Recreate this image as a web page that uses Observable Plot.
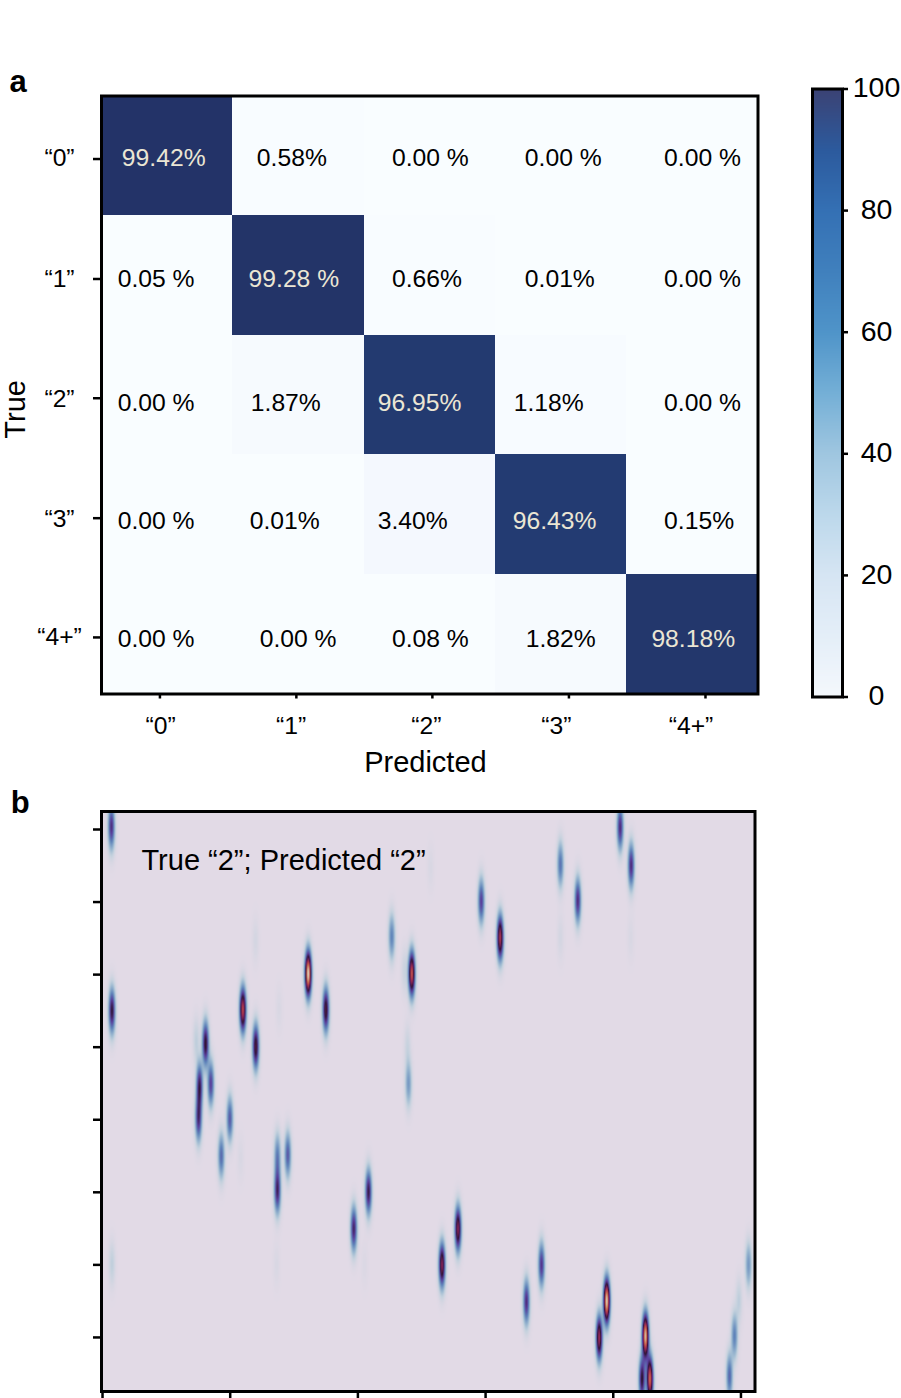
<!DOCTYPE html>
<html>
<head>
<meta charset="utf-8">
<script src="https://cdn.jsdelivr.net/npm/d3@7"></script>
<script src="https://cdn.jsdelivr.net/npm/@observablehq/plot@0.6"></script>
<style>
html,body{margin:0;padding:0;background:#fff;}
#stage{position:relative;width:901px;height:1398px;overflow:hidden;font-family:"Liberation Sans",Arial,sans-serif;}
#stage svg{position:absolute;overflow:visible;background:transparent;}
</style>
</head>
<body>
<div id="stage"></div>
<script>
// ---------- Panel a: confusion matrix ----------
const classLabels = ["“0”", "“1”", "“2”", "“3”", "“4+”"];
const rowText = [
  ["99.42%", "0.58%", "0.00 %", "0.00 %", "0.00 %"],
  ["0.05 %", "99.28 %", "0.66%", "0.01%", "0.00 %"],
  ["0.00 %", "1.87%", "96.95%", "1.18%", "0.00 %"],
  ["0.00 %", "0.01%", "3.40%", "96.43%", "0.15%"],
  ["0.00 %", "0.00 %", "0.08 %", "1.82%", "98.18%"]
];
// left edge of each printed number, in column units
const rowTextX = [
  [0.155, 1.183, 2.212, 3.224, 4.285],
  [0.123, 1.12, 2.212, 3.224, 4.285],
  [0.123, 1.137, 2.104, 3.14, 4.285],
  [0.123, 1.129, 2.104, 3.132, 4.285],
  [0.123, 1.205, 2.212, 3.231, 4.188]
];
const rowTextY = [0.523, 1.535, 2.565, 3.552, 4.54];
const xTickAt = [0.445, 1.484, 2.52, 3.56, 4.6];
const yTickAt = [0.527, 1.53, 2.527, 3.53, 4.527];
const xLabelAt = [0.451, 1.444, 2.474, 3.464, 4.49];
const yLabelAt = [0.523, 1.535, 2.534, 3.534, 4.524];

const cellStopsAt  = [0, 3.4, 20, 50, 80, 96.4, 100];
const cellStops    = ["#f9fdff", "#f4f8fe", "#d6e5f3", "#74afd6", "#3470b4", "#233b72", "#233266"];

// ---------- Colour bar ----------
const barTicks = [0, 20, 40, 60, 80, 100];
const barStopsAt = [0, 10, 20, 30, 40, 50, 60, 70, 80, 90, 100];
const barStops = ["#f4f8fc", "#e4eef8", "#d6e5f3", "#bcd8eb", "#9fc6e0", "#74afd6", "#4f94c9", "#4080bd", "#3470b4", "#2c5a9d", "#3b4274"];

// ---------- Panel b: streaks ----------
// position in tick units, strength on the colour map (0..1)
const streakX = [
  0.07, 0.074, 1.099, 1.2, 1.611, 1.749, 0.807, 0.734, 0.848, 0.76, 0.752, 0.997, 0.93, 1.37, 1.37, 1.451,
  4.054, 4.14, 3.586, 3.722, 2.966, 3.114, 2.265, 2.422, 2.365, 3.586, 2.569, 2.396, 2.388,
  1.968, 2.083, 2.659, 2.784, 3.32, 3.438, 3.949, 3.89, 4.252, 4.225, 4.287,
  4.91, 4.949, 4.984, 5.059, 0.074,
  1.198, 1.383, 1.081, 4.135, 1.363, 2.052
];
const streakY = [
  -0.04, 2.497, 2.483, 2.993, 1.986, 2.483, 2.952, 2.91, 3.503, 3.531, 3.986, 3.986, 4.497, 4.497, 4.979, 4.483,
  -0.028, 0.497, 0.483, 0.979, 0.989, 1.49, 1.476, 1.986, 1.945, 1.49, 0.524, 3.503, 2.979,
  5.503, 4.993, 6.0, 5.503, 6.51, 6.0, 6.497, 7.003, 6.979, 7.572, 7.572,
  7.531, 6.979, 6.497, 6.0, 5.986,
  1.531, 2.469, 4.524, 1.49, 6.0, 6.0
];
const streakAmp = [
  0.42, 0.5, 0.72, 0.55, 0.95, 0.55, 0.52, 0.07, 0.38, 0.46, 0.42, 0.33, 0.3, 0.25, 0.45, 0.33,
  0.42, 0.42, 0.28, 0.42, 0.38, 0.68, 0.25, 0.75, 0.05, 0.03, 0.02, 0.2, 0.05,
  0.45, 0.48, 0.62, 0.62, 0.42, 0.4, 0.93, 0.65, 0.9, 0.5, 0.78,
  0.3, 0.25, 0.07, 0.2, 0.07,
  0.03, 0.02, 0.02, 0.02, 0.02, 0.015
];
const twilightAt = [0, 0.06, 0.12, 0.25, 0.38, 0.5, 0.6, 0.7, 0.8, 0.9, 1];
const twilight = ["#e2dae6", "#c6d2de", "#9fbbd2", "#5f84ba", "#5a3d9b", "#2f1436", "#7a1f55", "#b23a4a", "#c8724f", "#d6b49c", "#eee6dc"];

const F = 24.7;     // number labels
const FT = 29;      // titles
const ink = "#000";
const baseStyle = {fontFamily: '"Liberation Sans", Arial, sans-serif', background: "transparent", overflow: "visible"};
const stage = document.getElementById("stage");
function place(svg, left, top) {
  svg.style.left = left + "px";
  svg.style.top = top + "px";
  stage.appendChild(svg);
}

// Panel a
const cells = rowText.flatMap((r, i) => r.map((t, j) => ({
  row: i, col: j, text: t, value: parseFloat(t), lx: rowTextX[i][j], ly: rowTextY[i]
})));
const panelA = Plot.plot({
  width: 790, height: 790,
  marginLeft: 101, marginRight: 790 - 757.5, marginTop: 95.5, marginBottom: 790 - 693.5,
  style: baseStyle,
  x: {domain: [0, 5], axis: null},
  y: {domain: [0, 5], reverse: true, axis: null},
  color: {type: "linear", domain: cellStopsAt, range: cellStops},
  marks: [
    Plot.rect(cells, {x1: d => d.col, x2: d => d.col + 1, y1: d => d.row, y2: d => d.row + 1, fill: d => d.value, inset: 0, shapeRendering: "crispEdges"}),
    Plot.text(cells, {x: "lx", y: "ly", text: "text", textAnchor: "start", fontSize: F,
      fill: d => d.value > 50 ? "#ebe6d4" : ink}),
    Plot.frame({stroke: ink, strokeWidth: 3}),
    Plot.axisX({anchor: "bottom", ticks: xTickAt, tickSize: 5, tickFormat: () => "", strokeWidth: 2.5, stroke: ink, label: null}),
    Plot.axisX({anchor: "bottom", ticks: xLabelAt, tickSize: 0, tickPadding: 22, fontSize: F, fill: ink, label: null,
      tickFormat: d => classLabels[xLabelAt.indexOf(d)]}),
    Plot.axisY({anchor: "left", ticks: yTickAt, tickSize: 8, tickFormat: () => "", strokeWidth: 2.5, stroke: ink, label: null}),
    Plot.axisY({anchor: "left", ticks: yLabelAt, tickSize: 0, tickPadding: 42, textAnchor: "middle", fontSize: F, fill: ink, label: null,
      tickFormat: d => classLabels[yLabelAt.indexOf(d)]}),
    Plot.text(["Predicted"], {x: 2.467, y: 5.575, fontSize: FT, fill: ink}),
    Plot.text(["True"], {x: -0.655, y: 2.62, rotate: -90, fontSize: FT, fill: ink}),
    Plot.text(["a"], {x: -0.635, y: -0.117, fontSize: 31, fontWeight: "bold", fill: ink})
  ]
});
place(panelA, 0, 0);

// Colour bar
const colourBar = Plot.plot({
  width: 101, height: 640,
  marginLeft: 12, marginRight: 101 - 38 - 4, marginTop: 18.5, marginBottom: 640 - 626.5,
  style: baseStyle,
  x: {domain: [0, 1], axis: null},
  y: {domain: [0, 100], axis: null},
  color: {type: "linear", domain: barStopsAt, range: barStops},
  marks: [
    Plot.raster({fill: (x, y) => y, x1: 0, x2: 1, y1: 0, y2: 100, pixelSize: 1}),
    Plot.frame({stroke: ink, strokeWidth: 3}),
    Plot.axisY({anchor: "right", ticks: barTicks, tickSize: 5, tickFormat: () => "", strokeWidth: 2.5, stroke: ink, label: null}),
    Plot.axisY({anchor: "right", ticks: barTicks, tickSize: 0, tickPadding: 34, dy: -0.8, textAnchor: "middle", fontSize: 28.5, fill: ink,
      label: null, tickFormat: d => String(d)})
  ]
});
place(colourBar, 800, 70);

// Panel b
const streaks = streakX.map((x, i) => ({x, y: streakY[i], a: streakAmp[i]}));
const sx = 2.2 / 127.7, sy = 15 / 72.5;
function field(x, y) {
  let v = 0;
  for (const s of streaks) {
    const dx = (x - s.x) / sx, dy = (y - s.y) / sy;
    if (Math.abs(dx) > 6 || Math.abs(dy) > 6) continue;
    v += s.a * Math.exp(-0.5 * (dx * dx + dy * dy));
  }
  return Math.min(v, 1);
}
const panelBTop = 785;
const panelB = Plot.plot({
  width: 790, height: 613,
  marginLeft: 101, marginRight: 790 - 754.5, marginTop: 811 - panelBTop, marginBottom: 1398 - 1391,
  style: baseStyle,
  x: {domain: [-0.008, 5.11], axis: null},
  y: {domain: [-0.248, 7.745], reverse: true, axis: null},
  color: {type: "linear", domain: twilightAt, range: twilight},
  marks: [
    Plot.raster({fill: field, x1: -0.008, x2: 5.11, y1: -0.248, y2: 7.745, pixelSize: 1}),
    Plot.frame({stroke: ink, strokeWidth: 3}),
    Plot.axisX({anchor: "bottom", ticks: [0, 1, 2, 3, 4, 5], tickSize: 7, tickFormat: () => "", strokeWidth: 2.5, stroke: ink, label: null}),
    Plot.axisY({anchor: "left", ticks: [0, 1, 2, 3, 4, 5, 6, 7], tickSize: 8, tickFormat: () => "", strokeWidth: 2.5, stroke: ink, label: null}),
    Plot.text(["True “2”; Predicted “2”"], {x: 0.305, y: 0.428, textAnchor: "start", fontSize: FT, fill: ink}),
    Plot.text(["b"], {x: -0.645, y: -0.359, fontSize: 31, fontWeight: "bold", fill: ink})
  ]
});
place(panelB, 0, panelBTop);
</script>
</body>
</html>
